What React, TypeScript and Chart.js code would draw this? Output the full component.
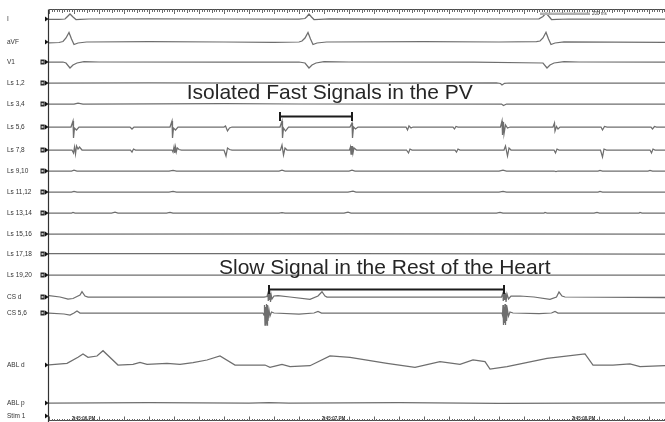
import React, { useEffect, useRef } from "react";
import { Chart, registerables } from "chart.js";

Chart.register(...registerables);

type Sample = [number, number]; // [time in ms, amplitude (up = positive)]

// ---------------- channel list ----------------
const CHANNELS: string[] = [
  "I", "aVF", "V1", "Ls 1,2", "Ls 3,4", "Ls 5,6", "Ls 7,8", "Ls 9,10", "Ls 11,12",
  "Ls 13,14", "Ls 15,16", "Ls 17,18", "Ls 19,20", "CS d", "CS 5,6", "ABL d", "ABL p", "Stim 1",
];
// channels shown with the small "box" icon before the marker
const BOXED: boolean[] = [
  false, false, true, true, true, true, true, true, true,
  true, true, true, true, true, true, false, false, false,
];

// ---------------- time axis ----------------
const TIME_MIN = 0;
const TIME_MAX = 2464; // ms
const CLOCK_LABELS: string[] = ["2:45:06 PM", "2:45:07 PM", "2:45:08 PM"];
const CLOCK_TIMES: number[] = [138, 1138, 2138];
const SCALE_BAR_MS: number[] = [1964, 2164];

// ---------------- signals (ms, amplitude) ----------------
const sigI: Sample[] = [
  [0, -0.5], [40, -0.3], [64, 0], [72, 2], [84, 5], [96, 2], [108, -0.5], [124, -0.3], [160, 0],
  [400, 0.2], [700, 0], [1000, 0], [1024, 0.5], [1032, 2.5], [1040, 5], [1050, 2], [1060, -0.5],
  [1080, -0.3], [1120, 0], [1400, -0.2], [1700, 0], [1960, 0.2], [1976, 2.5], [1988, 6],
  [2000, 2.5], [2010, -0.5], [2030, -0.3], [2080, 0], [2464, 0],
];
const sigAVF: Sample[] = [
  [0, -1], [40, -0.5], [56, 0.5], [68, 4], [80, 9.5], [90, 3], [100, -2.5], [116, -1], [150, 0],
  [400, 0.3], [700, 0], [900, -0.3], [1000, 0], [1012, 1], [1024, 4], [1036, 9.5], [1046, 3],
  [1056, -2.5], [1072, -1], [1110, 0], [1500, 0.3], [1800, 0], [1950, 0.3], [1964, 1], [1976, 4],
  [1988, 9.8], [1998, 3], [2008, -2.5], [2024, -1], [2060, 0], [2464, -0.3],
];
const sigV1: Sample[] = [
  [0, 0], [56, 0], [68, -1], [84, -6], [96, -3], [112, -1], [140, 0.3], [200, 0], [700, 0],
  [1000, 0], [1024, -1], [1040, -6], [1052, -3], [1068, -1], [1100, 0.3], [1200, 0], [1700, 0],
  [1976, -1], [1992, -6], [2004, -3], [2020, -1], [2060, 0.3], [2120, 0], [2464, 0],
];
const sigLs12: Sample[] = [
  [0, 0], [400, 0.2], [900, 0], [1400, -0.2], [1790, 0], [1806, -0.5], [1812, -2], [1822, -0.3],
  [1840, 0], [2464, 0],
];
const sigLs34: Sample[] = [
  [0, 0], [100, 0], [116, 0.8], [136, 0], [700, 0.3], [1000, 0], [1810, 0], [1818, -1.5],
  [1830, 0], [2464, 0],
];
const sigLs56: Sample[] = [
  [0, 0], [88, 0], [96, 6], [98, -11], [102, -1], [110, -3], [120, 0],
  [324, 0], [332, -2], [340, 0],
  [484, 0], [492, 6], [494, -11], [498, -1], [506, -3], [516, 0],
  [700, 0], [706, 1], [714, -4], [722, -1], [732, 0],
  [924, 0], [932, 6], [934, -11], [938, -1], [946, -4], [958, 0],
  [1204, 0], [1212, 4], [1214, -11], [1218, 0], [1226, -2], [1236, 0],
  [1428, 0], [1434, -3], [1440, 1], [1448, -1], [1456, 0],
  [1616, 0], [1622, -2], [1628, 0.5], [1636, 0],
  [1806, 0], [1812, 6], [1814, -8], [1818, 5], [1820, -7], [1826, 2], [1834, -1], [1844, 0],
  [2016, 0], [2022, 4], [2024, -4], [2030, 0.5], [2036, -2], [2044, 0],
  [2208, 0], [2214, -3], [2222, 0.5], [2232, 0],
  [2408, 0], [2414, -2], [2422, 0.5], [2430, 0], [2464, 0],
];
const sigLs78: Sample[] = [
  [0, 0], [92, 0], [98, -3], [102, 3], [106, -4], [110, 4], [116, 1], [122, 3], [132, 0],
  [326, 0], [332, -2], [338, 1], [346, 0],
  [492, 0], [496, -2], [500, 3], [503, -3], [506, 3], [509, -2], [513, 2], [520, 0.5], [530, 0],
  [700, 0], [708, -6], [714, 2], [722, 0.5], [732, 0],
  [926, 0], [932, 5], [938, -5], [944, 2], [952, 0],
  [1202, 0], [1206, 3], [1208, -4], [1210, 4], [1212, -4], [1214, 4], [1216, -3], [1220, 2], [1230, 0],
  [1430, 0], [1438, -3], [1444, 1], [1452, 0],
  [1624, 0], [1630, -2], [1636, 1], [1644, 0],
  [1820, 0], [1826, 4], [1834, -6], [1840, 2], [1848, 0],
  [2020, 0], [2026, -3], [2032, 1], [2040, 0],
  [2206, 0], [2214, -7], [2220, 1], [2230, 0],
  [2404, 0], [2410, -3], [2416, 1], [2424, 0], [2464, 0],
];
const sigLs910: Sample[] = [
  [0, 0], [90, 0], [100, 0.8], [112, 0], [480, 0], [496, 0.6], [510, 0], [920, 0], [932, 0.8],
  [944, 0], [1200, 0], [1212, 0.8], [1224, 0], [1800, 0], [1816, 0.8], [1830, 0], [2020, 0],
  [2028, -0.5], [2036, 0], [2196, 0], [2204, 0.7], [2214, 0], [2396, 0], [2404, 0.6], [2414, 0],
  [2464, 0],
];
const sigLs1112: Sample[] = [
  [0, 0], [90, 0], [100, 0.7], [112, 0], [480, 0], [496, 0.5], [510, 0], [1196, 0], [1216, 0.8],
  [1228, 0], [1800, 0], [1816, 0.7], [1830, 0], [2196, 0], [2204, 0.6], [2214, 0], [2464, 0],
];
const sigLs1314: Sample[] = [
  [0, 0], [90, 0], [96, 0.5], [104, 0], [250, 0], [264, 0.8], [276, 0], [470, 0], [484, 0.5],
  [496, 0], [920, 0], [932, 0.4], [944, 0], [1180, 0], [1196, 0.8], [1208, 0], [1790, 0],
  [1804, 0.6], [1816, 0], [1980, 0], [1984, 0.5], [1992, 0], [2180, 0], [2192, 0.7], [2202, 0],
  [2360, 0], [2364, 0.6], [2372, 0], [2464, 0],
];
const sigLs1516: Sample[] = [[0, 0], [1200, 0.2], [2464, 0]];
const sigLs1718: Sample[] = [[0, 0.5], [1200, 0.3], [2464, 0]];
const sigLs1920: Sample[] = [[0, 0], [2464, 0]];
const sigCSd: Sample[] = [
  [0, 1.5], [44, 0], [76, -2], [96, -1.5], [112, 0.5], [124, 2], [132, 5.3], [144, 1], [156, 0],
  [400, 0], [860, 0], [872, 0.5], [876, 4], [877, -4], [880, 5], [881, -3], [884, 4], [886, -5],
  [888, 3], [892, -2], [900, 1], [916, 1.3], [964, 0], [1044, -2.3], [1076, 1], [1092, 5.3],
  [1104, 1], [1112, 0], [1400, 0], [1810, 0], [1816, 4], [1817, -4], [1820, 5], [1822, -3],
  [1826, 4], [1828, -5], [1832, 3], [1838, -2], [1848, 1], [1884, 1], [1940, 0], [2004, -2.3],
  [2030, 0], [2040, 5], [2052, 1], [2064, 0], [2464, -0.5],
];
const sigCS56: Sample[] = [
  [0, 0], [60, -1], [84, -2], [100, 0], [112, 2], [124, 0], [400, 0], [856, 0], [860, -2],
  [862, 8], [864, -12], [866, 6], [868, -10], [870, 9], [872, -12], [874, 8], [876, -8], [880, 3],
  [884, -3], [890, 1], [900, 0], [1000, -1], [1060, 0], [1076, 1.5], [1090, 0], [1400, 0],
  [1812, 0], [1814, -2], [1816, 8], [1818, -12], [1820, 6], [1822, -10], [1824, 9], [1826, -12],
  [1828, 8], [1830, -8], [1834, 3], [1838, -3], [1844, 1], [1856, 0], [1960, -0.5], [2010, 0],
  [2024, 1.5], [2036, 0], [2464, 0],
];
const sigABLd: Sample[] = [
  [0, 0], [72, 1.7], [116, 7.7], [136, 11], [156, 7.7], [192, 9], [216, 14.3], [276, 0],
  [336, 0.7], [364, 2.7], [392, 0.7], [472, 1.7], [524, 0.7], [576, 2.3], [632, 5], [684, 9],
  [744, 0], [864, 0], [884, -2.3], [932, 0.7], [964, -1.7], [1044, -0.7], [1124, 9], [1204, 7.7],
  [1352, 1.7], [1464, -2.3], [1564, 3.3], [1644, 0.7], [1696, 5], [1744, 3.3], [1764, -4],
  [1832, -1.7], [1992, 6.7], [2144, 11], [2176, 0], [2256, 0], [2324, 1], [2364, -1.7],
  [2464, -0.7],
];
const sigABLp: Sample[] = [
  [0, 0], [400, 0.3], [800, 0], [880, 0.4], [960, 0], [1400, 0.3], [1800, -0.3], [2100, 0],
  [2464, 0.2],
];

const SIGNALS: (Sample[] | null)[] = [
  sigI, sigAVF, sigV1, sigLs12, sigLs34, sigLs56, sigLs78, sigLs910, sigLs1112, sigLs1314,
  sigLs1516, sigLs1718, sigLs1920, sigCSd, sigCS56, sigABLd, sigABLp, null,
];

// ---------------- annotations ----------------
const NOTE_PV = "Isolated Fast Signals in the PV";
const NOTE_HEART = "Slow Signal in the Rest of the Heart";
const BRACKET_PV: number[] = [924, 1212]; // ms
const BRACKET_HEART: number[] = [880, 1820]; // ms

// ---------------- layout (display offsets on the vertical axis) ----------------
const Y_RANGE = 422;
const CHANNEL_OFFSET: number[] = [19, 42, 62, 83, 104, 127, 150, 171, 192, 213, 234, 254, 275, 297, 313, 365, 403, 416];
const LAYOUT = {
  rulerTop: 9.5,
  rulerBottom: 420.5,
  notePVBaseline: 99,
  notePVStart: 551,
  bracketPVY: 116.5,
  noteHeartBaseline: 274,
  noteHeartStart: 680,
  bracketHeartY: 289.5,
};

const FONT = '"Liberation Sans", Arial, Helvetica, sans-serif';
const TRACE_COLOR = "#6e6e6e";

const overlayPlugin = {
  id: "egmOverlay",
  beforeDraw(chart: any) {
    const { ctx, width, height } = chart;
    ctx.save();
    ctx.fillStyle = "#ffffff";
    ctx.fillRect(0, 0, width, height);
    ctx.restore();
  },
  afterDatasetsDraw(chart: any) {
    const ctx: CanvasRenderingContext2D = chart.ctx;
    const xs = chart.scales.x;
    const ys = chart.scales.y;
    const area = chart.chartArea;
    const L = area.left;
    const R = area.right;
    ctx.save();

    // top ruler
    const yTop = ys.getPixelForValue(LAYOUT.rulerTop);
    ctx.strokeStyle = "#4a4a4a";
    ctx.lineWidth = 1;
    ctx.beginPath();
    ctx.moveTo(L, yTop);
    ctx.lineTo(R, yTop);
    ctx.stroke();
    ctx.strokeStyle = "#6a6a6a";
    ctx.beginPath();
    for (let t = TIME_MIN; t <= TIME_MAX; t += 10) {
      const x = Math.round(xs.getPixelForValue(t)) + 0.5;
      const len = t % 100 === 0 ? 4.5 : t % 50 === 0 ? 3.5 : 2.5;
      ctx.moveTo(x, yTop);
      ctx.lineTo(x, yTop + len);
    }
    ctx.stroke();

    // 200 ms scale bar
    const sb0 = xs.getPixelForValue(SCALE_BAR_MS[0]);
    const sb1 = xs.getPixelForValue(SCALE_BAR_MS[1]);
    ctx.fillStyle = "#b0b0b0";
    ctx.fillRect(sb0, yTop + 3, sb1 - sb0, 2.5);
    ctx.fillStyle = "#444";
    ctx.font = `4.5px ${FONT}`;
    ctx.textBaseline = "middle";
    ctx.textAlign = "left";
    ctx.fillText("200 ms", sb1 + 2, yTop + 4.5);

    // bottom ruler
    const yBot = ys.getPixelForValue(LAYOUT.rulerBottom);
    ctx.strokeStyle = "#4a4a4a";
    ctx.beginPath();
    ctx.moveTo(L, yBot);
    ctx.lineTo(R, yBot);
    ctx.stroke();
    ctx.strokeStyle = "#666";
    ctx.beginPath();
    for (let t = TIME_MIN; t <= TIME_MAX; t += 10) {
      const x = Math.round(xs.getPixelForValue(t)) + 0.5;
      const len = t % 100 === 0 ? 4 : 1.5;
      ctx.moveTo(x, yBot);
      ctx.lineTo(x, yBot - len);
    }
    ctx.stroke();
    ctx.fillStyle = "#333";
    ctx.font = `bold 4.5px ${FONT}`;
    ctx.textAlign = "center";
    ctx.textBaseline = "alphabetic";
    CLOCK_LABELS.forEach((s, i) => {
      ctx.fillText(s, xs.getPixelForValue(CLOCK_TIMES[i]), yBot - 0.5);
    });

    // left border of the recording
    ctx.strokeStyle = "#333";
    ctx.lineWidth = 1.2;
    ctx.beginPath();
    ctx.moveTo(L - 0.5, yTop);
    ctx.lineTo(L - 0.5, area.bottom);
    ctx.stroke();

    // channel markers
    CHANNELS.forEach((_, i) => {
      const y = ys.getPixelForValue(CHANNEL_OFFSET[i]);
      ctx.fillStyle = "#111";
      ctx.beginPath();
      ctx.moveTo(L - 4, y - 2.6);
      ctx.lineTo(L - 0.5, y);
      ctx.lineTo(L - 4, y + 2.6);
      ctx.closePath();
      ctx.fill();
      if (BOXED[i]) {
        ctx.fillStyle = "#2a2a2a";
        ctx.fillRect(L - 8.5, y - 2.5, 4.2, 5);
        ctx.fillStyle = "#bdbdbd";
        ctx.fillRect(L - 7.5, y - 1, 2, 2);
      }
    });

    // annotations
    ctx.fillStyle = "#262626";
    ctx.font = `21px ${FONT}`;
    ctx.textAlign = "left";
    ctx.textBaseline = "alphabetic";
    ctx.fillText(NOTE_PV, xs.getPixelForValue(LAYOUT.notePVStart), ys.getPixelForValue(LAYOUT.notePVBaseline));
    ctx.fillText(NOTE_HEART, xs.getPixelForValue(LAYOUT.noteHeartStart), ys.getPixelForValue(LAYOUT.noteHeartBaseline));

    const bracket = (range: number[], yv: number) => {
      const x0 = xs.getPixelForValue(range[0]);
      const x1 = xs.getPixelForValue(range[1]);
      const y = ys.getPixelForValue(yv);
      ctx.strokeStyle = "#1c1c1c";
      ctx.lineWidth = 2;
      ctx.beginPath();
      ctx.moveTo(x0, y);
      ctx.lineTo(x1, y);
      ctx.moveTo(x0, y - 4.5);
      ctx.lineTo(x0, y + 4.5);
      ctx.moveTo(x1, y - 4.5);
      ctx.lineTo(x1, y + 4.5);
      ctx.stroke();
    };
    bracket(BRACKET_PV, LAYOUT.bracketPVY);
    bracket(BRACKET_HEART, LAYOUT.bracketHeartY);

    ctx.restore();
  },
};

export default function App() {
  const canvasRef = useRef<HTMLCanvasElement | null>(null);

  useEffect(() => {
    document.body.style.margin = "0";
    const canvas = canvasRef.current;
    if (!canvas) return;

    const datasets = SIGNALS.map((sig, i) =>
      sig
        ? {
            label: CHANNELS[i],
            data: sig.map(([t, a]) => ({ x: t, y: CHANNEL_OFFSET[i] - a })),
            borderColor: TRACE_COLOR,
            borderWidth: 1.25,
            pointRadius: 0,
            tension: 0,
            fill: false,
          }
        : null
    ).filter(Boolean) as any[];

    const chart = new Chart(canvas, {
      type: "line",
      data: { datasets },
      options: {
        animation: false,
        responsive: false,
        maintainAspectRatio: false,
        devicePixelRatio: 1,
        layout: { padding: { left: 7, right: 0, top: 0, bottom: 0 } },
        plugins: { legend: { display: false }, tooltip: { enabled: false }, title: { display: false } },
        scales: {
          x: { type: "linear", min: TIME_MIN, max: TIME_MAX, display: false },
          y: {
            type: "linear",
            reverse: true,
            min: 0,
            max: Y_RANGE,
            position: "left",
            afterBuildTicks: (scale: any) => {
              scale.ticks = CHANNEL_OFFSET.map((v) => ({ value: v }));
            },
            afterFit: (scale: any) => {
              scale.width = 42;
              scale.paddingTop = 0;
              scale.paddingBottom = 0;
            },
            ticks: {
              autoSkip: false,
              crossAlign: "far",
              padding: 0,
              color: "#333",
              font: { family: FONT, size: 6.5 },
              callback: (_v: any, i: number) => CHANNELS[i],
            },
            grid: { display: false, drawTicks: false },
            border: { display: false },
          },
        },
      } as any,
      plugins: [overlayPlugin],
    });
    return () => chart.destroy();
  }, []);

  return (
    <div style={{ width: 665, height: 422 }}>
      <canvas ref={canvasRef} width={665} height={422} style={{ display: "block" }} />
    </div>
  );
}
